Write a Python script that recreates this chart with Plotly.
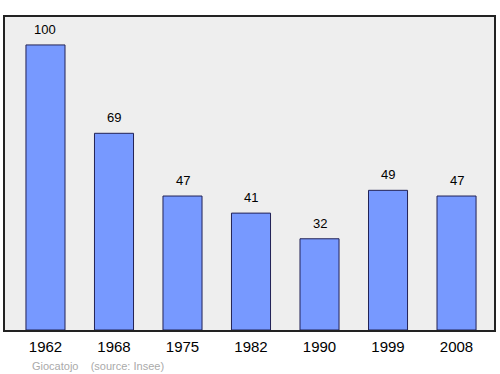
import plotly.graph_objects as go

years = ["1962", "1968", "1975", "1982", "1990", "1999", "2008"]
population = [100, 69, 47, 41, 32, 49, 47]

xs = list(range(len(years)))
FONT = "Liberation Sans, Arial, sans-serif"

fig = go.Figure()
fig.add_trace(go.Bar(
    x=xs, y=population, width=0.57,
    marker=dict(color="#7799ff", line=dict(color="#222255", width=1)),
    hoverinfo="skip",
))
for x, v in zip(xs, population):
    fig.add_annotation(x=x, y=v, text=str(v), showarrow=False, yanchor="bottom",
                       yshift=6, font=dict(family=FONT, size=13, color="#000"))

fig.update_layout(
    width=500, height=374,
    margin=dict(l=5, r=6, t=17, b=44),
    paper_bgcolor="white", plot_bgcolor="#eeeeee",
    showlegend=False,
    font=dict(family=FONT, color="#000"),
)
fig.update_xaxes(
    tickmode="array", tickvals=xs, ticktext=years,
    range=[-0.591, 6.547], showgrid=False, zeroline=False,
    ticks="", tickfont=dict(size=15), ticklabelstandoff=2,
    showline=True, linecolor="#222", linewidth=1.5, mirror=True,
)
fig.update_yaxes(
    range=[0, 109.8], showgrid=False, zeroline=False, showticklabels=False,
    showline=True, linecolor="#222", linewidth=1.5, mirror=True, ticks="",
)
fig.add_annotation(
    xref="x domain", yref="y domain", x=(30 - 5) / 489, y=-(366 - 330) / 313,
    xanchor="left", yanchor="middle",
    text="Giocatojo    (source: Insee)",
    showarrow=False, font=dict(family=FONT, size=11, color="#aaaaaa"),
)
fig.write_html("out.html")
